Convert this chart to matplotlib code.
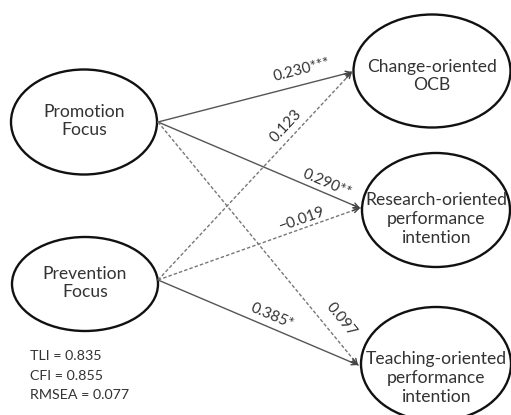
import numpy as np
import matplotlib
matplotlib.use("Agg")
import matplotlib.pyplot as plt
from matplotlib.patches import Ellipse

plt.rcParams['font.family'] = ['Lato', 'DejaVu Sans']

# nodes of the path model
nodes = ["Promotion\nFocus",
         "Prevention\nFocus",
         "Change-oriented\nOCB",
         "Research-oriented\nperformance\nintention",
         "Teaching-oriented\nperformance\nintention"]

# paths: source index, target index, coefficient label, significant?
src = [0, 0, 0, 1, 1, 1]
dst = [2, 3, 4, 2, 3, 4]
coef = ["0.230***", "0.290**", "0.097", "0.123", "\u22120.019", "0.385*"]
signif = [True, True, False, False, False, True]

fit_names = ["TLI", "CFI", "RMSEA"]
fit_values = ["0.835", "0.855", "0.077"]

# layout (pixel space, y downwards)
centers = [(84, 122), (85, 284), (432, 71), (436, 210), (436, 364)]
sizes = [(146, 105), (146, 94), (157, 113), (148, 114), (150, 114)]
text_pos = [(84, 121), (85, 283), (432, 76), (436, 219), (436, 378)]
starts = {0: (158, 122), 1: (158, 280)}
ends = {2: (352, 72), 3: (360, 208), 4: (358, 365)}
lab_t = [0.761, 0.819, 0.855, 0.703, 0.727, 0.548]
lab_off = [14.4, 9.2, 15.5, 11.4, 8.9, 11.0]

fig = plt.figure(figsize=(5.11, 4.15), dpi=100)
ax = fig.add_axes([0, 0, 1, 1])
ax.set_xlim(0, 511)
ax.set_ylim(415, 0)
ax.axis('off')

for i, name in enumerate(nodes):
    (cx, cy), (w, h) = centers[i], sizes[i]
    ax.add_patch(Ellipse((cx, cy), w, h, fill=False, ec='#111111', lw=1.7))
    ax.text(text_pos[i][0], text_pos[i][1], name, ha='center', va='center',
            fontsize=12.6, color='#333333', linespacing=1.2)

for k in range(len(coef)):
    x0, y0 = starts[src[k]]
    x1, y1 = ends[dst[k]]
    if signif[k]:
        ax.plot([x0, x1], [y0, y1], color='#555555', lw=1.0)
    else:
        ax.plot([x0, x1], [y0, y1], color='#777777', lw=1.0,
                linestyle=(0, (2.5, 1.5)))
    dx, dy = x1 - x0, y1 - y0
    L = np.hypot(dx, dy)
    ux, uy = dx / L, dy / L
    # small open arrow head
    ax.annotate("", xy=(x1, y1), xytext=(x1 - ux * 8, y1 - uy * 8),
                arrowprops=dict(arrowstyle='->', color='#444444', lw=1.0,
                                shrinkA=0, shrinkB=0, mutation_scale=9))
    nx, ny = dy / L, -dx / L
    t = lab_t[k]
    px = x0 + dx * t + nx * lab_off[k]
    py = y0 + dy * t + ny * lab_off[k]
    ang = np.degrees(np.arctan2(-dy, dx))
    ax.text(px, py, coef[k], ha='center', va='center', rotation=ang,
            rotation_mode='anchor', fontsize=11, color='#333333')

for i in range(len(fit_names)):
    ax.text(30, 356 + i * 19.5, f"{fit_names[i]} = {fit_values[i]}",
            ha='left', va='center', fontsize=10.3, color='#333333')

fig.savefig("out.png", dpi=100)
